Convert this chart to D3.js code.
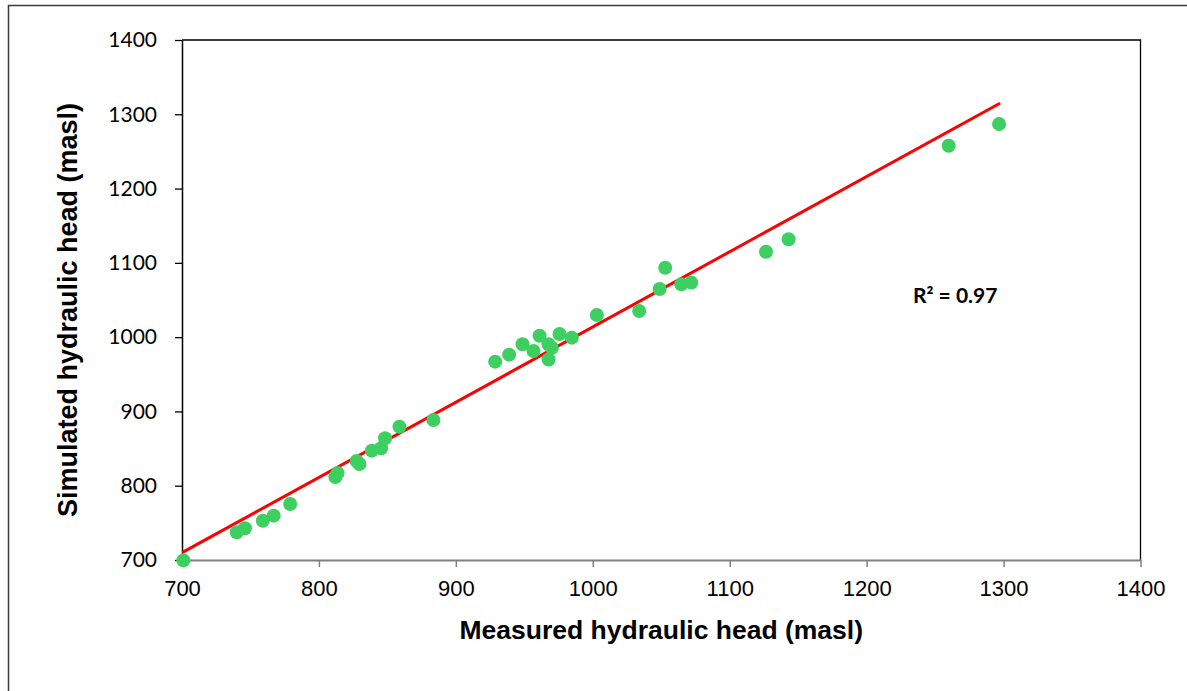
<!DOCTYPE html>
<html>
<head>
<meta charset="utf-8">
<script src="https://cdn.jsdelivr.net/npm/d3@7"></script>
<style>
  body { margin: 0; background: #fff; }
  svg { display: block; }
</style>
</head>
<body>
<svg id="chart" width="1187" height="691"></svg>
<script>
// Measured vs simulated hydraulic head at the observation wells (m a.s.l.)
const measured = [701, 740, 746, 759, 767, 779, 812, 813.6, 827.6, 829.6, 838.6, 845.4, 848.3, 858.8, 883.6,
  928.7, 938.9, 948.7, 956.7, 961.1, 967.7, 970.1, 967.7, 975.7, 984.7, 1003, 1033.9, 1048.8, 1052.9,
  1064.6, 1071.9, 1126.5, 1143, 1259.9, 1296.7];
const simulated = [699.5, 737.3, 742.7, 752.9, 759.7, 775.4, 811.8, 817, 833.3, 829.3, 847.2, 850.4, 863.8, 879.5, 888.5,
  967, 976.4, 990.4, 981.4, 1001.9, 990.4, 985.8, 970, 1004.3, 999.3, 1029.8, 1035.2, 1064.8, 1093.5,
  1071.1, 1073.4, 1115, 1131.7, 1257.7, 1286.9];

const xTicks = [700, 800, 900, 1000, 1100, 1200, 1300, 1400];
const yTicks = [700, 800, 900, 1000, 1100, 1200, 1300, 1400];

// Linear trendline reported with the calibration
const trendSlope = 1.0126;
const trendIntercept = 1.1;
const r2Label = "R\u00B2 = 0.97";

const xTitle = "Measured hydraulic head (masl)";
const yTitle = "Simulated hydraulic head (masl)";

const svg = d3.select("#chart");
const W = 1187, H = 691;
const plot = { left: 182, right: 1140.5, top: 40, bottom: 560 };

svg.append("rect").attr("width", W).attr("height", H).attr("fill", "#fff");

// outer chart frame
svg.append("rect")
  .attr("x", 8.5).attr("y", 5.5)
  .attr("width", 1200).attr("height", 720)
  .attr("fill", "none").attr("stroke", "#3a3a3a").attr("stroke-width", 1.5);

const x = d3.scaleLinear().domain([700, 1400]).range([plot.left, plot.right]);
const y = d3.scaleLinear().domain([700, 1400]).range([plot.bottom, plot.top]);

// plot-area border (top and right)
svg.append("path")
  .attr("d", `M${plot.left},${plot.top}H${plot.right}V${plot.bottom}`)
  .attr("fill", "none").attr("stroke", "#000").attr("stroke-width", 1.3);

// y axis
const yAxis = svg.append("g")
  .attr("transform", `translate(${plot.left},0)`)
  .call(d3.axisLeft(y).tickValues(yTicks).tickSize(7).tickSizeOuter(0).tickPadding(18).tickFormat(d3.format("d")));
yAxis.select(".domain").attr("stroke", "#000").attr("stroke-width", 1.5);
yAxis.selectAll(".tick line").attr("stroke", "#000").attr("stroke-width", 1.3);
yAxis.selectAll(".tick text")
  .attr("fill", "#000")
  .style("font-family", "Lato, 'Open Sans', sans-serif")
  .style("font-size", "21px");

// x axis
const xAxis = svg.append("g")
  .attr("transform", `translate(0,${plot.bottom})`)
  .call(d3.axisBottom(x).tickValues(xTicks).tickSize(7).tickSizeOuter(0).tickPadding(13).tickFormat(d3.format("d")));
xAxis.select(".domain").attr("stroke", "#808080").attr("stroke-width", 2);
xAxis.selectAll(".tick line").attr("stroke", "#808080").attr("stroke-width", 1.5);
xAxis.selectAll(".tick text")
  .attr("fill", "#000")
  .style("font-family", "'Liberation Sans', Arial, sans-serif")
  .style("font-size", "22px");

// axis titles
svg.append("text")
  .attr("x", (plot.left + plot.right) / 2).attr("y", 639)
  .attr("text-anchor", "middle")
  .style("font-family", "'Liberation Sans', Arial, sans-serif")
  .style("font-weight", "bold").style("font-size", "26.5px")
  .text(xTitle);

svg.append("text")
  .attr("transform", `translate(77,${(plot.top + plot.bottom) / 2 + 10}) rotate(-90)`)
  .attr("text-anchor", "middle")
  .style("font-family", "'Liberation Sans', Arial, sans-serif")
  .style("font-weight", "bold").style("font-size", "27px")
  .text(yTitle);

// trendline over the measured range
const xr = d3.extent(measured);
const trend = xr.map(v => [v, trendSlope * v + trendIntercept]);
svg.append("path")
  .datum(trend)
  .attr("d", d3.line().x(d => x(d[0])).y(d => y(d[1])))
  .attr("fill", "none").attr("stroke", "#ff0000").attr("stroke-width", 3)
  .attr("stroke-linecap", "round");

// observation points
const pts = measured.map((m, i) => ({ m, s: simulated[i] }));
svg.append("g").selectAll("circle")
  .data(pts)
  .join("circle")
  .attr("cx", d => x(d.m))
  .attr("cy", d => y(d.s))
  .attr("r", 7)
  .attr("fill", "#3dcf60");

// goodness-of-fit label
svg.append("text")
  .attr("x", 913).attr("y", 303)
  .style("font-family", "Lato, 'Open Sans', sans-serif")
  .style("font-weight", "bold").style("font-size", "21px")
  .attr("fill", "#000")
  .text(r2Label);
</script>
</body>
</html>
